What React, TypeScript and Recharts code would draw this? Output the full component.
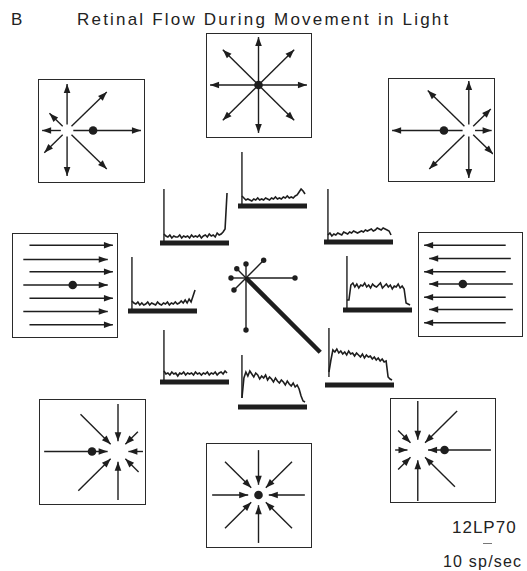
import React from 'react';
import { ScatterChart, Scatter, XAxis, YAxis, LineChart, Line, ReferenceLine } from 'recharts';

const INK = '#1e1e1e';
const FONT = '"Liberation Sans", Arial, Helvetica, sans-serif';

// directions of the flow-field arrows (deg, counter-clockwise from right)
const ANGLES = [0, 45, 90, 135, 180, 225, 270, 315];

// how far each arrow reaches from the focus (box units 0-100)
const topCenterReach = [47, 49, 47, 49, 47, 49, 47, 49];
const topLeftReach = [71, 54, 46, 24, 24, 31, 45, 54];
const topRightReach = [22, 30, 49, 56, 74, 54, 47, 33];
const bottomLeftReach = [24, 27, 46, 51, 71, 54, 47, 28];
const bottomCenterReach = [45, 46, 44, 46, 45, 46, 47, 46];
const bottomRightReach = [71, 54, 48, 27, 22, 27, 50, 51];

// laminar flow rows
const leftRowsY = [89, 75, 63, 50, 37, 24, 11];
const leftRowsStart = [16, 10, 16, 10, 16, 10, 16];
const leftRowsEnd = [97, 92, 97, 92, 97, 92, 97];
const rightRowsY = [88, 75, 62, 50, 37, 25, 12];
const rightRowsStart = [85, 90, 85, 92, 85, 92, 85];
const rightRowsEnd = [5, 10, 5, 10, 5, 10, 5];

// PSTH traces (sp/sec), one per flow direction
const histTopLeft = [6, 4, 3, 5, 2, 4, 3, 3, 5, 2, 4, 3, 4, 2, 5, 3, 4, 3, 5, 2, 4, 5, 3, 6, 4, 5, 3, 7, 5, 6, 8, 11, 47];
const histTop = [7, 5, 3, 4, 3, 2, 4, 3, 5, 3, 4, 3, 5, 4, 3, 5, 4, 6, 4, 5, 4, 6, 5, 7, 5, 6, 5, 7, 8, 11, 14, 12, 9];
const histTopRight = [4, 6, 3, 5, 4, 6, 5, 4, 7, 6, 5, 7, 6, 8, 7, 6, 7, 8, 7, 9, 8, 9, 10, 8, 9, 11, 10, 9, 11, 10, 9, 8, 4];
const histLeft = [7, 5, 4, 6, 3, 5, 3, 4, 6, 3, 5, 4, 3, 6, 4, 3, 5, 4, 6, 3, 5, 4, 6, 4, 5, 7, 5, 8, 5, 9, 6, 12, 18];
const histRight = [7, 7, 22, 24, 20, 23, 19, 22, 21, 24, 20, 22, 19, 23, 21, 20, 22, 24, 19, 21, 23, 20, 22, 18, 21, 20, 23, 19, 21, 18, 4, 3, 2];
const histBottomLeft = [8, 5, 6, 4, 7, 5, 6, 3, 6, 5, 7, 4, 6, 5, 6, 4, 7, 5, 6, 4, 6, 5, 7, 4, 6, 5, 7, 4, 6, 7, 5, 8, 6];
const histBottom = [6, 26, 32, 28, 33, 30, 27, 31, 29, 25, 28, 26, 29, 24, 27, 25, 22, 26, 23, 21, 24, 22, 19, 23, 20, 18, 21, 17, 19, 15, 8, 3, 2];
const histBottomRight = [10, 22, 32, 30, 33, 29, 31, 28, 30, 27, 31, 28, 29, 26, 29, 27, 25, 28, 24, 27, 25, 26, 23, 25, 22, 24, 21, 23, 20, 21, 5, 3, 2];

// polar tuning plot, response per direction
const polarResp = [49, 25, 14, 13, 15, 17, 52, 105];

const zero = { top: 0, right: 0, bottom: 0, left: 0 };
const rad = (d: number) => (d * Math.PI) / 180;

const ArrowHead = (props: any) => {
  const { cx, cy, payload } = props;
  if (!payload || payload.ang === undefined) return <g />;
  const ux = Math.cos(rad(payload.ang));
  const uy = -Math.sin(rad(payload.ang));
  const L = 9;
  const W = 3.3;
  const bx = cx - ux * L;
  const by = cy - uy * L;
  const pts = `${cx},${cy} ${bx - uy * W},${by + ux * W} ${bx + uy * W},${by - ux * W}`;
  return <polygon points={pts} fill={INK} />;
};

const DotShape = (props: any) => <circle cx={props.cx} cy={props.cy} r={4.3} fill={INK} />;

type Seg = { x1: number; y1: number; x2: number; y2: number; ang: number };

const radial = (fx: number, fy: number, reach: number[], inner: number, inward: boolean): Seg[] =>
  ANGLES.map((a, i) => {
    const c = Math.cos(rad(a));
    const s = Math.sin(rad(a));
    const ox = fx + reach[i] * c;
    const oy = fy + reach[i] * s;
    const ix = fx + inner * c;
    const iy = fy + inner * s;
    return inward
      ? { x1: ox, y1: oy, x2: ix, y2: iy, ang: a + 180 }
      : { x1: ix, y1: iy, x2: ox, y2: oy, ang: a };
  });

const rows = (ys: number[], starts: number[], ends: number[]): Seg[] =>
  ys.map((y, i) => ({ x1: starts[i], y1: y, x2: ends[i], y2: y, ang: ends[i] > starts[i] ? 0 : 180 }));

const FlowBox = ({ left, top, w, h, segs, dots }: any) => (
  <div
    style={{
      position: 'absolute',
      left,
      top,
      width: w,
      height: h,
      border: '1.6px solid #2a2a2a',
      boxSizing: 'border-box',
    }}
  >
    <ScatterChart width={w - 3} height={h - 3} margin={zero}>
      <XAxis type="number" dataKey="x" domain={[0, 100]} hide />
      <YAxis type="number" dataKey="y" domain={[0, 100]} hide />
      {segs.map((s: Seg, i: number) => (
        <Scatter
          key={i}
          data={[
            { x: s.x1, y: s.y1 },
            { x: s.x2, y: s.y2, ang: s.ang },
          ]}
          line={{ stroke: INK, strokeWidth: 1.4 }}
          shape={ArrowHead}
          isAnimationActive={false}
        />
      ))}
      <Scatter data={dots} shape={DotShape} isAnimationActive={false} />
    </ScatterChart>
  </div>
);

const Psth = ({ left, top, values, markBottom, markTop }: any) => {
  const data = values.map((v: number, i: number) => ({ i, v }));
  return (
    <div style={{ position: 'absolute', left, top }}>
      <LineChart width={69} height={64} data={data} margin={zero}>
        <XAxis type="number" dataKey="i" domain={[-2, 33]} hide />
        <YAxis type="number" domain={[-6, 58]} hide />
        <ReferenceLine segment={[{ x: -2, y: -3 }, { x: 33, y: -3 }]} stroke={INK} strokeWidth={5} />
        <ReferenceLine
          segment={[{ x: 0, y: markBottom }, { x: 0, y: markTop }]}
          stroke={INK}
          strokeWidth={1.4}
        />
        <Line
          type="linear"
          dataKey="v"
          stroke={INK}
          strokeWidth={1.6}
          dot={false}
          isAnimationActive={false}
        />
      </LineChart>
    </div>
  );
};

const SpokeEnd = (props: any) => {
  const { cx, cy, payload } = props;
  if (!payload || !payload.tip) return <g />;
  return <circle cx={cx} cy={cy} r={2.7} fill={INK} />;
};

const PolarPlot = () => {
  const maxResp = Math.max(...polarResp);
  return (
    <div style={{ position: 'absolute', left: 126, top: 158 }}>
      <ScatterChart width={240} height={240} margin={zero}>
        <XAxis type="number" dataKey="x" domain={[-120, 120]} hide />
        <YAxis type="number" dataKey="y" domain={[-120, 120]} hide />
        {ANGLES.map((a, i) => {
          const thick = polarResp[i] === maxResp;
          return (
            <Scatter
              key={a}
              data={[
                { x: 0, y: 0 },
                {
                  x: polarResp[i] * Math.cos(rad(a)),
                  y: polarResp[i] * Math.sin(rad(a)),
                  tip: !thick,
                },
              ]}
              line={{ stroke: INK, strokeWidth: thick ? 4.5 : 1.4 }}
              shape={SpokeEnd}
              isAnimationActive={false}
            />
          );
        })}
      </ScatterChart>
    </div>
  );
};

export default function App() {
  return (
    <div
      style={{
        position: 'absolute',
        left: 0,
        top: 0,
        width: 527,
        height: 571,
        background: '#fff',
        fontFamily: FONT,
        color: '#222',
      }}
    >
      <div style={{ position: 'absolute', left: 11, top: 11, fontSize: 17, lineHeight: 1 }}>B</div>
      <div
        style={{
          position: 'absolute',
          left: 77,
          top: 11,
          fontSize: 17,
          lineHeight: 1,
          letterSpacing: 2.2,
          whiteSpace: 'nowrap',
        }}
      >
        Retinal Flow During Movement in Light
      </div>

      <FlowBox left={206} top={33} w={106} h={105} segs={radial(50, 50, topCenterReach, 0, false)} dots={[{ x: 50, y: 50 }]} />
      <FlowBox left={38} top={79} w={107} h={104} segs={radial(27, 50, topLeftReach, 6, false)} dots={[{ x: 52, y: 50 }]} />
      <FlowBox left={388} top={78} w={107} h={104} segs={radial(77, 49, topRightReach, 6, false)} dots={[{ x: 53, y: 49 }]} />
      <FlowBox left={12} top={233} w={106} h={105} segs={rows(leftRowsY, leftRowsStart, leftRowsEnd)} dots={[{ x: 58, y: 50 }]} />
      <FlowBox left={418} top={232} w={105} h={105} segs={rows(rightRowsY, rightRowsStart, rightRowsEnd)} dots={[{ x: 43, y: 50 }]} />
      <FlowBox left={39} top={399} w={107} h={106} segs={radial(75, 50, bottomLeftReach, 10, true)} dots={[{ x: 50, y: 50 }]} />
      <FlowBox left={206} top={443} w={106} h={105} segs={radial(50, 50, bottomCenterReach, 10, true)} dots={[{ x: 50, y: 50 }]} />
      <FlowBox left={390} top={398} w={106} h={105} segs={radial(26, 50, bottomRightReach, 10, true)} dots={[{ x: 52, y: 50 }]} />

      <Psth left={160} top={182} values={histTopLeft} markBottom={-3} markTop={51} />
      <Psth left={238} top={145} values={histTop} markBottom={-3} markTop={51} />
      <Psth left={324} top={181} values={histTopRight} markBottom={-3} markTop={50} />
      <Psth left={128} top={250} values={histLeft} markBottom={-3} markTop={51} />
      <Psth left={343} top={249} values={histRight} markBottom={-3} markTop={51} />
      <Psth left={160} top={321} values={histBottomLeft} markBottom={-3} markTop={49} />
      <Psth left={238} top={346} values={histBottom} markBottom={6} markTop={49} />
      <Psth left={325} top={324} values={histBottomRight} markBottom={5} markTop={54} />

      <PolarPlot />

      <div style={{ position: 'absolute', left: 452, top: 519, fontSize: 17, lineHeight: 1, letterSpacing: 1 }}>12LP70</div>
      <div style={{ position: 'absolute', left: 483, top: 543, width: 9, height: 1, background: '#777' }} />
      <div style={{ position: 'absolute', left: 443, top: 554, fontSize: 16, lineHeight: 1, letterSpacing: 1.2 }}>10 sp/sec</div>
    </div>
  );
}
